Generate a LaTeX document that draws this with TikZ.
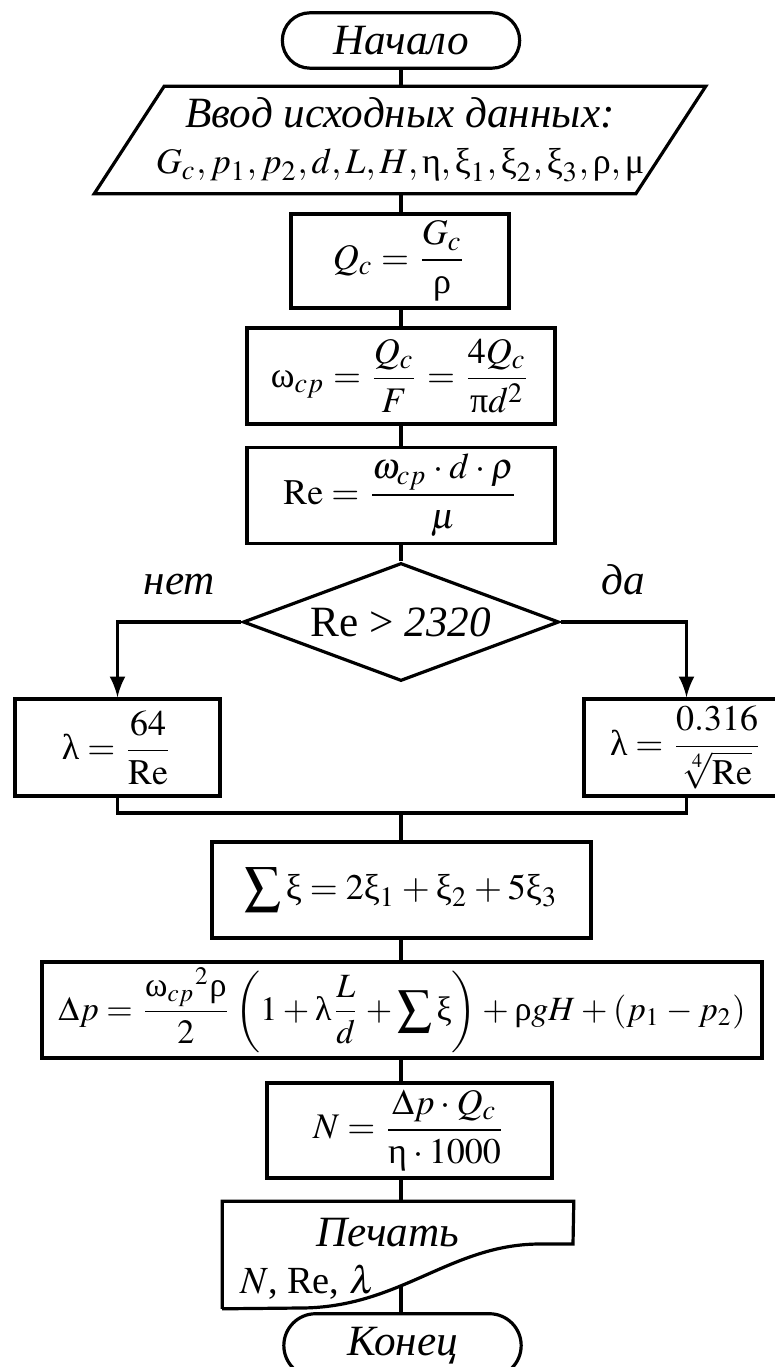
\documentclass[tikz,border=0pt]{standalone}
\usepackage{amsmath}
\usepackage{mathptmx}
\usepackage{fontspec}
\setmainfont{Liberation Serif}
\usepackage{tikz}
\usetikzlibrary{arrows, shapes.geometric, shapes.misc}
\newcommand{\fs}{\fontsize{10.8}{12}\selectfont}
\newcommand{\fm}{\fontsize{9}{10.5}\selectfont\thickmuskip=4mu plus 2mu\medmuskip=3mu plus 2mu}
\newcommand{\gu}[1]{\text{\upshape #1}}

\begin{document}
\begin{tikzpicture}[x=0.25pt, y=-0.25pt,
		>=latex,   % Pfeilspitzen
		font=\fs,
		term/.style={draw, thick, rounded rectangle, minimum width=66pt, minimum height=13.75pt, font=\fs\itshape},
		block/.style={draw, thick, rectangle, minimum height=24pt, inner sep=1pt, font=\fm},
		cond/.style={draw, thick, diamond, aspect=2.68, minimum width=79pt, minimum height=29.5pt, inner sep=1pt},
		con/.style={thick}]
		% Bildbereich
		\useasboundingbox[fill=white] (0,0) rectangle (774,1367);
		\coordinate (axis) at (401,0);
		% Anfang und Eingabe
		\node[term] (start) at (401,40.5) {Начало};
		\node[minimum width=135pt, minimum height=26.5pt] (input) at (400,140) {};
		\draw[thick] ([xshift=8.75pt]input.north west) -- ([xshift=8.75pt]input.north east)
			-- ([xshift=-8.75pt]input.south east) -- ([xshift=-8.75pt]input.south west) -- cycle;
		\node[align=center, inner sep=0pt, font=\fontsize{10.8}{11.5}\selectfont] (inputtxt) at (input.center)
			{\textit{Ввод исходных данных:}\\
			{\fm$G_c, p_1, p_2, d, L, H, \gu{η}, \gu{ξ}_1, \gu{ξ}_2, \gu{ξ}_3, \gu{ρ}, \gu{μ}$}};
		% Berechnung
		\node[block, minimum width=54.5pt, minimum height=23.5pt] (qc) at (400,261) {$Q_c=\dfrac{G_c}{\gu{ρ}}$};
		\node[block, minimum width=77pt] (omega) at (401,376) {$\gu{ω}_{cp}=\dfrac{Q_c}{F}=\dfrac{4Q_c}{\gu{π}d^2}$};
		\node[block, minimum width=77pt] (re) at (401,495.5) {$\mathrm{Re}=\dfrac{\omega_{cp}\cdot d\cdot\rho}{\mu}$};
		% Verzweigung
		\node[cond] (cond) at (401,622) {Re > \textit{2320}};
		\node[block, minimum width=51.25pt, minimum height=24.25pt] (lamlam) at (117.5,747.5) {$\gu{λ}=\dfrac{64}{\mathrm{Re}}$};
		\node[block, minimum width=51.25pt, minimum height=24.25pt] (lamturb) at (686.5,747.5) {$\gu{λ}=\dfrac{0.316}{\sqrt[4]{\mathrm{Re}}}$};
		\coordinate (join) at (401,813);
		% Verluste und Leistung
		\node[block, minimum width=94.75pt] (sumxi) at (401.5,890) {$\displaystyle\sum\gu{ξ}=2\gu{ξ}_1+\gu{ξ}_2+5\gu{ξ}_3$};
		\node[block, minimum width=180pt, font=\fm\fontsize{8.5}{10}\selectfont] (dp) at (402,1010)
			{$\Delta p=\dfrac{\gu{ω}_{cp}{}^2\gu{ρ}}{2}\left(1+\gu{λ}\dfrac{L}{d}+\displaystyle\sum\gu{ξ}\right)+\gu{ρ}gH+\left(p_1-p_2\right)$};
		\node[block, minimum width=71.25pt, minimum height=23.75pt] (power) at (409.5,1130.5) {$N=\dfrac{\Delta p\cdot Q_c}{\gu{η}\cdot 1000}$};
		% Ausgabe und Ende
		\node[minimum width=87.5pt, minimum height=26.5pt] (print) at (398,1255) {};
		\draw[thick] (print.south west) -- (print.north west) -- (print.north east) -- (573,1244) -- (540,1244)
			.. controls (450,1244) and (400,1308) .. (300,1308) -- (print.south west);
		\node (printhead) at (388,1233) {\textit{Печать}};
		\node[anchor=west, font=\fontsize{9.6}{11}\selectfont] (printout) at (226,1282) {$N$, Re, $\lambda$};
		\coordinate (wave) at (401,1285.5);
		\node[term] (stop) at (402.5,1345.5) {Конец};
		% Verbindungen
		\draw[con] (axis |- start.south) -- (axis |- input.north);
		\draw[con] (axis |- input.south) -- (axis |- qc.north);
		\draw[con] (axis |- qc.south) -- (axis |- omega.north);
		\draw[con] (axis |- omega.south) -- (axis |- re.north);
		\draw[con] (axis |- re.south) -- (cond.north);
		\draw[con,->] (cond.west) -| (lamlam.north) node[pos=0.25, above=3pt, font=\fs\itshape] (no) {нет};
		\draw[con,->] (cond.east) -| (lamturb.north) node[pos=0.25, above=3pt, font=\fs\itshape] (yes) {да};
		\draw[con] (lamlam.south) |- (join) -| (lamturb.south);
		\draw[con] (join) -- (axis |- sumxi.north);
		\draw[con] (axis |- sumxi.south) -- (axis |- dp.north);
		\draw[con] (axis |- dp.south) -- (axis |- power.north);
		\draw[con] (axis |- power.south) -- (axis |- print.north);
		\draw[con] (wave) -- (axis |- stop.north);
\end{tikzpicture}
\end{document}
